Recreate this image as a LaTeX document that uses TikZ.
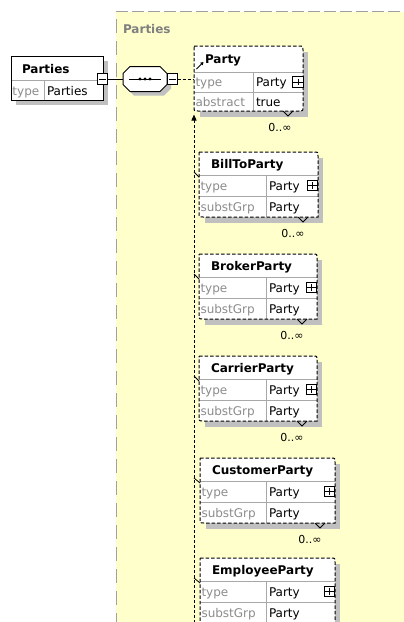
\documentclass[tikz,border=0pt]{standalone}
\usepackage{fontspec}
\setmainfont{DejaVu Sans}
\usetikzlibrary{arrows.meta}

\definecolor{grpfill}{HTML}{FFFFCC}
\definecolor{grpedge}{HTML}{A0A0A0}
\definecolor{grplabel}{HTML}{808080}
\definecolor{labgray}{HTML}{8C8C8C}
\definecolor{divgray}{HTML}{A8A8A8}
\definecolor{shadowgray}{HTML}{C0C0C0}

% small expand / collapse glyphs drawn inside a square node
\newcommand\pmminus[1]{\draw[line width=0.8pt, shorten >=2pt, shorten <=2pt] (#1.west) -- (#1.east);}
\newcommand\pmplus[1]{\draw[line width=0.8pt, shorten >=2pt, shorten <=2pt] (#1.west) -- (#1.east) (#1.north) -- (#1.south);}

% a substitution-group member: #1 name, #2 left, #3 top, #4 right, #5 title
\newcommand\memberbox[5]{%
  \fill[shadowgray] (#2+6,#3+6) rectangle (#4+5,#3+71);
  \path[fill=white] (#2,#3) -- (#4-4,#3) .. controls (#4,#3) .. (#4,#3+4) -- (#4,#3+65)
     -- (#2+4,#3+65) .. controls (#2,#3+65) .. (#2,#3+61) -- cycle;
  \draw[divline] (#2,#3+23) -- (#4,#3+23) (#2,#3+44) -- (#4,#3+44) (266,#3+23) -- (266,#3+65);
  \draw[optedge] (#2,#3) -- (#4-4,#3) .. controls (#4,#3) .. (#4,#3+4) -- (#4,#3+65)
     -- (#2+4,#3+65) .. controls (#2,#3+65) .. (#2,#3+61) -- cycle;
  \draw[line width=0.8pt] (#4-20,#3+65) -- (#4-15,#3+70) -- (#4-10,#3+65);
  \node[ttl, anchor=base west] (#1-title) at (#2+12,#3+16) {#5};
  \node[lbl, anchor=base west] (#1-k1) at (#2+1.5,#3+38) {type};
  \node[txt, anchor=base west] (#1-v1) at (269,#3+38) {Party};
  \node[lbl, anchor=base west] (#1-k2) at (#2+1.5,#3+59) {substGrp};
  \node[txt, anchor=base west] (#1-v2) at (269,#3+59) {Party};
  \node[pmbox] (#1-plus) at (#4-5.5,#3+33.5) {};
  \pmplus{#1-plus}
  \coordinate (#1-tap) at (194,#3+20);
  \coordinate (#1-w) at (#2,#3+25);
  \draw[line width=0.8pt] (#1-tap) -- (#1-w);
}
% occurrence label under a member box: #1 name, #2 top, #3 right
\newcommand\occurs[3]{%
  \node[mult, anchor=base] (#1-mult) at (#3-25,#2+85) {0..∞};
}

\begin{document}
\begin{tikzpicture}[x=1pt,y=-1pt,
  every node/.style={inner sep=0pt, outer sep=0pt},
  txt/.style={font=\fontsize{12}{14}\selectfont},
  ttl/.style={font=\fontsize{12}{14}\selectfont\bfseries},
  lbl/.style={txt, text=labgray},
  grplbl/.style={ttl, text=grplabel},
  mult/.style={font=\fontsize{11}{13}\selectfont},
  divline/.style={draw=divgray, line width=0.8pt},
  optedge/.style={draw=black, line width=1pt, dash pattern=on 3.5pt off 2pt},
  reqedge/.style={draw=black, line width=1pt},
  conn/.style={line width=1pt, dash pattern=on 3pt off 2pt},
  pmbox/.style={draw=black, fill=white, minimum size=10.5pt, line width=0.8pt},
]
\useasboundingbox (0,0) rectangle (404,622);
\clip (0,0) rectangle (404,622);
\fill[white] (0,0) rectangle (404,622);

% group area
\fill[grpfill] (116,12) rectangle (410,630);
\draw[grpedge, line width=1.3pt, dash pattern=on 12pt off 4pt] (116,11.5) -- (410,11.5);
\draw[grpedge, line width=1.3pt, dash pattern=on 14pt off 8pt] (116.5,19) -- (116.5,630);
\node[grplbl, anchor=base west] (grp) at (123,33) {Parties};

% root element
\fill[shadowgray] (16,61) rectangle (108,105);
\path[fill=white] (11,56) rectangle (103,100);
\draw[divline] (11,80) -- (103,80) (44,80) -- (44,100);
\draw[reqedge] (11,56) rectangle (103,100);
\node[ttl, anchor=base west] (root-title) at (22,73) {Parties};
\node[lbl, anchor=base west] (root-k1) at (12.5,95) {type};
\node[txt, anchor=base west] (root-v1) at (47,95) {Parties};
\node[pmbox] (rootmin) at (102.5,79) {};
\pmminus{rootmin}

% sequence compositor
\fill[shadowgray] (134,70.5) -- (164,70.5) -- (171,77.5) -- (171,88.5) -- (164,95.5)
   -- (134,95.5) -- (127,88.5) -- (127,77.5) -- cycle;
\draw[reqedge, fill=white] (130,66.5) -- (160,66.5) -- (167,73.5) -- (167,84.5) -- (160,91.5)
   -- (130,91.5) -- (123,84.5) -- (123,73.5) -- cycle;
\coordinate (seq-w) at (123,79);
\coordinate (seq-e) at (167,79);
\draw[line width=0.9pt] (129,79) -- (161,79);
\foreach \dx in {140,145,150} \fill (\dx,79) circle (1.7pt);
\node[pmbox, anchor=west] (seqmin) at (seq-e) {};
\pmminus{seqmin}
\draw[reqedge] (rootmin.east) -- (seq-w);

% abstract head element
\fill[shadowgray] (200,52) rectangle (308,117);
\path[fill=white] (194,46) -- (299,46) .. controls (303,46) .. (303,50) -- (303,107)
   .. controls (303,111) .. (299,111) -- (198,111) .. controls (194,111) .. (194,107) -- cycle;
\draw[divline] (194,72) -- (303,72) (194,92) -- (303,92) (253,72) -- (253,111);
\draw[optedge] (194,46) -- (299,46) .. controls (303,46) .. (303,50) -- (303,107)
   .. controls (303,111) .. (299,111) -- (198,111) .. controls (194,111) .. (194,107) -- cycle;
\draw[line width=0.8pt] (283,111) -- (288,116) -- (293,111);
\draw[line width=0.9pt, -{Triangle[length=3pt,width=3.5pt]}] (196.5,69) -- (203.5,62);
\node[ttl, anchor=base west] (party-title) at (205,63) {Party};
\node[lbl, anchor=base west] (party-k1) at (195.5,86) {type};
\node[txt, anchor=base west] (party-v1) at (256,86) {Party};
\node[lbl, anchor=base west] (party-k2) at (195.5,106) {abstract};
\node[txt, anchor=base west] (party-v2) at (256,106) {true};
\node[pmbox] (party-plus) at (298,82) {};
\pmplus{party-plus}
\node[mult, anchor=base] (party-mult) at (280,131) {0..∞};
\coordinate (party-w) at (194,79);
\draw[conn] (seqmin.east) -- (party-w);

% substitution line back to the head element
\coordinate (subs-top) at (194,114.5);
\coordinate (subs-bot) at (194,630);
\draw[conn, {Triangle[length=6pt,width=5pt]}-] (subs-top) -- (subs-bot);

% substitution-group members
\memberbox{billto}{199}{152}{318}{BillToParty}
\occurs{billto}{152}{318}
\memberbox{broker}{199}{254}{317}{BrokerParty}
\occurs{broker}{254}{317}
\memberbox{carrier}{199}{356}{317}{CarrierParty}
\occurs{carrier}{356}{317}
\memberbox{customer}{200}{458}{335}{CustomerParty}
\occurs{customer}{458}{335}
\memberbox{employee}{200}{558}{335}{EmployeeParty}
\end{tikzpicture}
\end{document}
